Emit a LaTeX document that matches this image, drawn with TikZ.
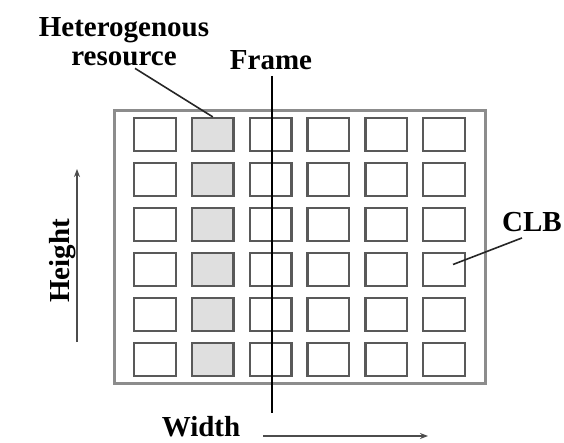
\documentclass[tikz,border=0pt]{standalone}
\usepackage{fontspec}
\setmainfont{Liberation Serif}
\usetikzlibrary{matrix,arrows.meta}

\begin{document}
\begin{tikzpicture}[x=1pt,y=-1pt,
    lbl/.style={font=\fontsize{29}{29}\selectfont\bfseries, inner sep=0pt, align=center},
    pointer/.style={draw=black!85, line width=1.6pt},
    dimarrow/.style={draw=black!70, line width=2pt, -{Stealth[length=8pt,width=6pt]}}]
  \useasboundingbox (0,0) rectangle (564,443);
  \matrix (m) [matrix of nodes, nodes in empty cells, ampersand replacement=\&,
          draw=gray!90, line width=3pt, inner xsep=19pt, inner ysep=6pt,
          nodes={minimum width=41.6pt, minimum height=32.8pt, inner sep=0pt,
                 draw=black!65, line width=2.4pt, fill=white},
          column 2/.style={nodes={fill=gray!25}},
          row sep=9.8pt, column sep=13.8pt] at (299.5,247) {
    \& \& \& \& \& \\
    \& \& \& \& \& \\
    \& \& \& \& \& \\
    \& \& \& \& \& \\
    \& \& \& \& \& \\
    \& \& \& \& \& \\
  };
  % labels
  \node[lbl] (het) at (124,42) {Heterogenous\\resource};
  \node[lbl] (frame) at (271,60) {Frame};
  \node[lbl] (clb) at (532,222) {CLB};
  \node[lbl, rotate=90, anchor=south] (height) at (76,261) {Height};
  \node[lbl] (width) at (201,427) {Width};
  % frame cut and pointers
  \coordinate (framebot) at (272,413);
  \draw[black, line width=2.2pt] (framebot |- frame.south) ++(0,6) -- (framebot);
  \draw[pointer] ([xshift=11pt,yshift=-2pt]het.south) -- (m-1-2.north);
  \draw[pointer] ([xshift=-10pt,yshift=-6pt]clb.south) -- ([xshift=9pt,yshift=5pt]m-4-6.center);
  % dimensions
  \coordinate (hbot) at (77,342);
  \coordinate (htop) at (77,169);
  \draw[dimarrow] (hbot) -- (htop);
  \coordinate (wleft) at (263,436);
  \coordinate (wright) at (428,436);
  \draw[dimarrow] (wleft) -- (wright);
\end{tikzpicture}
\end{document}
